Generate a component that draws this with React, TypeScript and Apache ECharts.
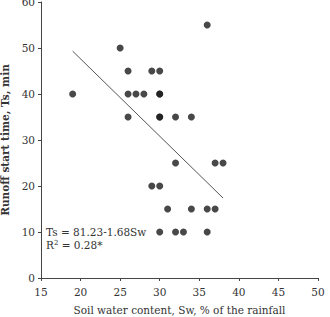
import React, { useEffect, useRef } from "react";
import * as echarts from "echarts";

// Soil water content (% of rainfall) and runoff start time (min) per event
const soilWater: number[] = [19, 25, 26, 26, 26, 27, 28, 29, 30, 30, 30, 30, 30, 32, 34, 36, 32, 37, 38, 29, 30, 31, 34, 36, 37, 30, 32, 33, 36];
const runoffStart: number[] = [40, 50, 45, 40, 35, 40, 40, 45, 45, 40, 40, 35, 35, 35, 35, 55, 25, 25, 25, 20, 20, 15, 15, 15, 15, 10, 10, 10, 10];

// Fitted regression: Ts = 81.23 - 1.68 Sw
const fitIntercept = 81.23;
const fitSlope = -1.68;
const fitRange: number[] = [19, 38];

const xTicks = { min: 15, max: 50, interval: 5 };
const yTicks = { min: 0, max: 60, interval: 10 };

const FONT = "'DejaVu Serif', 'Liberation Serif', serif";

export default function App() {
  const ref = useRef<HTMLDivElement>(null);

  useEffect(() => {
    if (!ref.current) return;
    const chart = echarts.init(ref.current, null, { renderer: "svg" });
    const points = soilWater.map((x, i) => [x, runoffStart[i]]);
    const fitLine = fitRange.map((x) => [x, fitIntercept + fitSlope * x]);
    const axisColor = "#444";

    chart.setOption({
      animation: false,
      backgroundColor: "#fff",
      grid: { left: 41, right: 12, top: 2, bottom: 39, outerBoundsMode: "none", containLabel: false },
      xAxis: {
        type: "value",
        min: xTicks.min,
        max: xTicks.max,
        interval: xTicks.interval,
        name: "Soil water content, Sw, % of the rainfall",
        nameLocation: "middle",
        nameGap: 26,
        nameTextStyle: { fontFamily: FONT, fontSize: 10.5, color: "#333" },
        axisLine: { lineStyle: { color: axisColor, width: 1 } },
        axisTick: { show: true, length: 3, lineStyle: { color: axisColor } },
        axisLabel: { fontFamily: FONT, fontSize: 10.5, color: "#333", margin: 8 },
        splitLine: { show: false },
      },
      yAxis: {
        type: "value",
        min: yTicks.min,
        max: yTicks.max,
        interval: yTicks.interval,
        name: "Runoff start time, Ts, min",
        nameLocation: "middle",
        nameGap: 27,
        nameTextStyle: { fontFamily: FONT, fontSize: 10.5, color: "#333", fontWeight: "bold" },
        axisLine: { show: true, lineStyle: { color: axisColor, width: 1 } },
        axisTick: { show: true, length: 3, lineStyle: { color: axisColor } },
        axisLabel: { fontFamily: FONT, fontSize: 10.5, color: "#333", margin: 6 },
        splitLine: { show: false },
      },
      series: [
        {
          type: "scatter",
          data: points,
          symbol: "circle",
          symbolSize: 7,
          itemStyle: { color: "#1a1a1a" },
          z: 3,
        },
        {
          type: "line",
          data: fitLine,
          symbol: "none",
          lineStyle: { color: "#555", width: 1 },
          z: 2,
        },
      ],
      graphic: [
        {
          type: "text",
          left: 46,
          top: 226,
          style: {
            text: "Ts = 81.23-1.68Sw",
            font: `10.5px ${FONT}`,
            fill: "#333",
          },
        },
        {
          type: "text",
          left: 46,
          top: 239,
          style: {
            text: "R{sup|2} = 0.28*",
            font: `10.5px ${FONT}`,
            fill: "#333",
            rich: {
              sup: { fontSize: 7, fontFamily: FONT, verticalAlign: "top", padding: [0, 0, 5, 0], fill: "#333" },
            },
          },
        },
      ],
    });

    return () => chart.dispose();
  }, []);

  return <div ref={ref} style={{ position: "absolute", left: 0, top: 0, width: 330, height: 317 }} />;
}
